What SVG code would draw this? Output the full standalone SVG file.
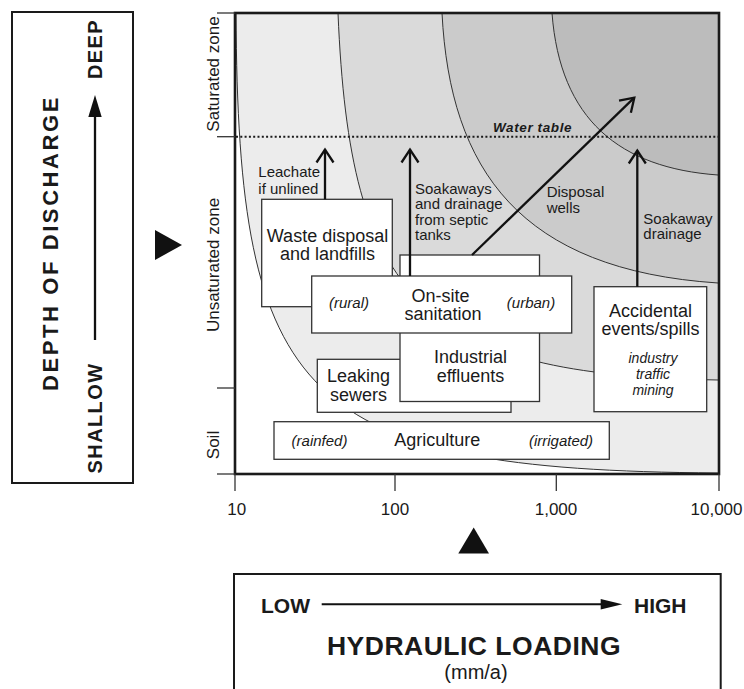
<svg xmlns="http://www.w3.org/2000/svg" width="744" height="689" viewBox="0 0 744 689">
<style>
  text { font-family: "Liberation Sans", Arial, Helvetica, sans-serif; fill: #1a1a1a; }
  .box { fill: #ffffff; stroke: #333333; stroke-width: 1.3; }
  .big { font-size: 18px; }
  .lbl { font-size: 15px; }
  .it { font-size: 15px; font-style: italic; }
  .it2 { font-size: 14px; font-style: italic; }
  .ax { font-size: 17px; }
  .zone { font-size: 17px; }
  .bold { font-weight: bold; }
  .curve { fill: none; stroke: #333333; stroke-width: 1; }
  .tick { stroke: #333333; stroke-width: 1.3; }
  .arr { fill: none; stroke: #111111; stroke-width: 2.3; marker-end: url(#chev); }
  .frame { fill: none; stroke: #1a1a1a; stroke-width: 2.6; }
  .c1 { fill: #ececec; }
  .c2 { fill: #dadada; }
  .c3 { fill: #cbcbcb; }
  .c4 { fill: #bcbcbc; }
</style>
<defs>
  <marker id="chev" markerUnits="userSpaceOnUse" viewBox="-16 -12 20 24" refX="0" refY="0" markerWidth="20" markerHeight="24" orient="auto">
    <path d="M-13,-8.5 L0,0 L-13,8.5" fill="none" stroke="#111111" stroke-width="2.3"/>
  </marker>
</defs>

<rect width="744" height="689" fill="#ffffff"/>

<!-- Left box: depth of discharge -->
<g id="depth-box">
  <rect x="12" y="12" width="121" height="471" fill="none" stroke="#1a1a1a" stroke-width="2"/>
  <text class="bold" font-size="22" letter-spacing="2.6" text-anchor="middle" transform="translate(58,243) rotate(-90)">DEPTH OF DISCHARGE</text>
  <text class="bold" font-size="20" letter-spacing="1.4" text-anchor="middle" transform="translate(101.7,418) rotate(-90)">SHALLOW</text>
  <text class="bold" font-size="20" letter-spacing="1.4" text-anchor="middle" transform="translate(101.7,49) rotate(-90)">DEEP</text>
  <line x1="95" y1="340" x2="95" y2="114" stroke="#111111" stroke-width="2.3"/>
  <polygon points="95,95 88.3,117 101.7,117" fill="#111111"/>
</g>
<polygon id="pointer-left" points="155,230 155,260 182,245" fill="#111111"/>

<!-- Plot background and zones -->
<g id="plot-zones">
  <rect x="235" y="13" width="484" height="461" fill="#ffffff"/>
  <path class="c1" d="M236,13 C238,400 300,470 718,473 L719,474 L719,13 Z"/>
  <path class="c2" d="M338,13 C350,300 420,375 718,380 L719,380 L719,13 Z"/>
  <path class="c3" d="M442,13 C450,170 520,270 718,283 L719,283 L719,13 Z"/>
  <path class="c4" d="M552,13 C560,120 620,168 718,175 L719,175 L719,13 Z"/>
  <path class="curve" d="M236,13 C238,400 300,470 718,473"/>
  <path class="curve" d="M338,13 C350,300 420,375 718,380"/>
  <path class="curve" d="M442,13 C450,170 520,270 718,283"/>
  <path class="curve" d="M552,13 C560,120 620,168 718,175"/>
</g>

<g id="water-table">
  <line x1="236" y1="136.7" x2="718" y2="136.7" stroke="#1a1a1a" stroke-width="2" stroke-dasharray="2 2.3"/>
  <text class="bold" font-size="13.5" font-style="italic" letter-spacing="0.6" x="493" y="131.7">Water table</text>
</g>

<!-- Nodes -->
<g id="waste-disposal">
  <rect class="box" x="261.7" y="199.3" width="130.6" height="107.4"/>
  <text class="big" text-anchor="middle" x="327.5" y="241.7">Waste disposal</text>
  <text class="big" text-anchor="middle" x="327.5" y="260">and landfills</text>
</g>
<g id="leaking-sewers">
  <rect class="box" x="317.3" y="359.3" width="193.7" height="53"/>
  <text class="big" text-anchor="middle" x="358.5" y="382">Leaking</text>
  <text class="big" text-anchor="middle" x="358.5" y="400.5">sewers</text>
</g>
<g id="industrial-effluents">
  <rect class="box" x="400" y="255" width="139.5" height="146.5"/>
  <text class="big" text-anchor="middle" x="470.5" y="363.3">Industrial</text>
  <text class="big" text-anchor="middle" x="470.5" y="381.7">effluents</text>
</g>
<g id="on-site-sanitation">
  <rect class="box" x="311.7" y="276" width="260" height="57"/>
  <text class="big" text-anchor="middle" x="440.5" y="301.7">On-site</text>
  <text class="big" text-anchor="middle" x="443" y="320">sanitation</text>
  <text class="it" text-anchor="middle" x="349" y="308.3">(rural)</text>
  <text class="it" text-anchor="middle" x="531" y="308.3">(urban)</text>
</g>
<g id="agriculture">
  <rect class="box" x="274" y="421.7" width="335.3" height="37.6"/>
  <text class="big" text-anchor="middle" x="437.3" y="446">Agriculture</text>
  <text class="it" text-anchor="middle" x="319.5" y="446">(rainfed)</text>
  <text class="it" text-anchor="middle" x="561" y="446">(irrigated)</text>
</g>
<g id="accidental-spills">
  <rect class="box" x="594" y="286.7" width="112.7" height="125"/>
  <text class="big" text-anchor="middle" x="650.5" y="316.7">Accidental</text>
  <text class="big" text-anchor="middle" x="650.5" y="335">events/spills</text>
  <text class="it2" text-anchor="middle" x="653" y="362.5">industry</text>
  <text class="it2" text-anchor="middle" x="653" y="378.5">traffic</text>
  <text class="it2" text-anchor="middle" x="653" y="394.5">mining</text>
</g>

<!-- Connectors -->
<g id="connectors">
  <line class="arr" x1="325" y1="199.3" x2="325" y2="149.5"/>
  <line class="arr" x1="410" y1="276" x2="410" y2="149.5"/>
  <line class="arr" x1="472" y1="255" x2="634.3" y2="97.7"/>
  <line class="arr" x1="637.3" y1="286.7" x2="637.3" y2="150.5"/>
</g>

<!-- Connector labels -->
<g id="connector-labels">
  <text class="lbl" x="258.3" y="177">Leachate</text>
  <text class="lbl" x="258.3" y="193.5">if unlined</text>
  <text class="lbl" x="415" y="194">Soakaways</text>
  <text class="lbl" x="415" y="209.3">and drainage</text>
  <text class="lbl" x="415" y="224.7">from septic</text>
  <text class="lbl" x="415" y="240">tanks</text>
  <text class="lbl" x="546.7" y="197.3">Disposal</text>
  <text class="lbl" x="546.7" y="213.3">wells</text>
  <text class="lbl" x="643.3" y="224">Soakaway</text>
  <text class="lbl" x="643.3" y="239.3">drainage</text>
</g>

<!-- Frame and axes -->
<g id="axes">
  <rect class="frame" x="235" y="13" width="484" height="461"/>
  <line class="tick" x1="217" y1="13" x2="235" y2="13"/>
  <line class="tick" x1="217" y1="136.7" x2="235" y2="136.7"/>
  <line class="tick" x1="217" y1="388" x2="235" y2="388"/>
  <line class="tick" x1="217" y1="474" x2="235" y2="474"/>
  <line class="tick" x1="235" y1="474" x2="235" y2="491"/>
  <line class="tick" x1="395" y1="474" x2="395" y2="491"/>
  <line class="tick" x1="556.3" y1="474" x2="556.3" y2="491"/>
  <line class="tick" x1="719" y1="474" x2="719" y2="491"/>
  <text class="ax" text-anchor="middle" x="236.7" y="515">10</text>
  <text class="ax" text-anchor="middle" x="395" y="515">100</text>
  <text class="ax" text-anchor="middle" x="556" y="515">1,000</text>
  <text class="ax" text-anchor="end" x="742.5" y="515">10,000</text>
  <text class="zone" text-anchor="middle" transform="translate(219,74) rotate(-90)">Saturated zone</text>
  <text class="zone" text-anchor="middle" transform="translate(219,265) rotate(-90)">Unsaturated zone</text>
  <text class="zone" text-anchor="middle" transform="translate(219,445) rotate(-90)">Soil</text>
</g>
<polygon id="pointer-up" points="473.7,527.5 458.3,553.5 489,553.5" fill="#111111"/>

<!-- Bottom box: hydraulic loading -->
<g id="hydraulic-box">
  <rect x="234" y="574" width="486.7" height="130" fill="none" stroke="#1a1a1a" stroke-width="2"/>
  <text class="bold" font-size="21" x="261" y="613.3">LOW</text>
  <text class="bold" font-size="21" x="634" y="613.3">HIGH</text>
  <line x1="321.7" y1="604.3" x2="602" y2="604.3" stroke="#111111" stroke-width="2"/>
  <polygon points="622.3,604.3 600.7,599 600.7,609.6" fill="#111111"/>
  <text class="bold" font-size="26.5" letter-spacing="0.5" text-anchor="middle" x="474" y="655">HYDRAULIC LOADING</text>
  <text font-size="20" text-anchor="middle" x="476" y="679">(mm/a)</text>
</g>
</svg>
